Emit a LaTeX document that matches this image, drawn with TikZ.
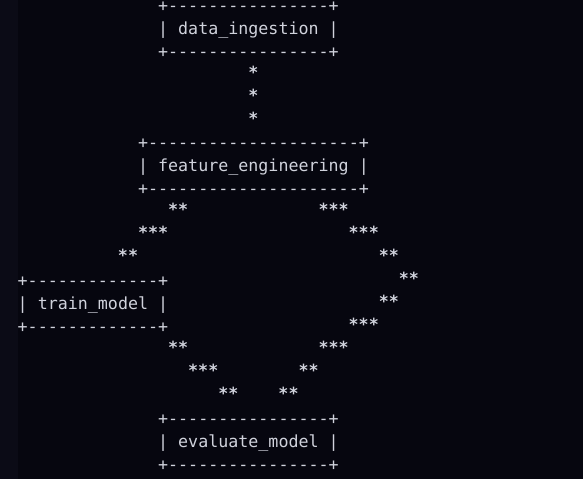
\documentclass[tikz,border=0pt]{standalone}
\usepackage{fontspec}
\setmonofont{DejaVu Sans Mono}
\definecolor{bg}{HTML}{06060F}
\definecolor{strip}{HTML}{0B0B16}
\definecolor{fg}{HTML}{D0D2DC}
\tikzset{
  ln/.style={anchor=base west, inner sep=0pt, outer sep=0pt, text=fg,
    font=\ttfamily\fontsize{12.5pt}{15pt}\selectfont},
  star/.style={ln, yshift=1.5pt, font=\ttfamily\bfseries\fontsize{12.5pt}{15pt}\selectfont},
}
\newcommand\cellxy[2]{({17.7+10.03*(#1)},{11.4+22.93*(#2)})}
\begin{document}
\begin{tikzpicture}[x=0.75pt,y=-0.75pt]
\useasboundingbox (0,0) rectangle (583,479);
\fill[bg] (0,0) rectangle (583,479);
\fill[strip] (0,0) rectangle (17.5,479);
% data_ingestion box
\node[ln] (diT) at \cellxy{14}{0} {+----------------+};
\node[ln] (di)  at \cellxy{14}{1} {| data\_ingestion |};
\node[ln] (diB) at \cellxy{14}{2} {+----------------+};
% edge data_ingestion -> feature_engineering
\node[star] (e1a) at \cellxy{23}{3} {*};
\node[star] (e1b) at \cellxy{23}{4} {*};
\node[star] (e1c) at \cellxy{23}{5} {*};
% feature_engineering box
\node[ln] (feT) at \cellxy{12}{6} {+---------------------+};
\node[ln] (fe)  at \cellxy{12}{7} {| feature\_engineering |};
\node[ln] (feB) at \cellxy{12}{8} {+---------------------+};
% edge feature_engineering -> train_model
\node[star] (e2a) at \cellxy{15}{9} {**};
\node[star] (e2b) at \cellxy{12}{10} {***};
\node[star] (e2c) at \cellxy{10}{11} {**};
% edge feature_engineering -> evaluate_model (right side)
\node[star] (e3a) at \cellxy{30}{9} {***};
\node[star] (e3b) at \cellxy{33}{10} {***};
\node[star] (e3c) at \cellxy{36}{11} {**};
\node[star] (e3d) at \cellxy{38}{12} {**};
\node[star] (e3e) at \cellxy{36}{13} {**};
\node[star] (e3f) at \cellxy{33}{14} {***};
\node[star] (e3g) at \cellxy{30}{15} {***};
\node[star] (e3h) at \cellxy{28}{16} {**};
\node[star] (e3i) at \cellxy{26}{17} {**};
% train_model box
\node[ln] (tmT) at \cellxy{0}{12} {+-------------+};
\node[ln] (tm)  at \cellxy{0}{13} {| train\_model |};
\node[ln] (tmB) at \cellxy{0}{14} {+-------------+};
% edge train_model -> evaluate_model
\node[star] (e4a) at \cellxy{15}{15} {**};
\node[star] (e4b) at \cellxy{17}{16} {***};
\node[star] (e4c) at \cellxy{20}{17} {**};
% evaluate_model box
\node[ln] (emT) at \cellxy{14}{18} {+----------------+};
\node[ln] (em)  at \cellxy{14}{19} {| evaluate\_model |};
\node[ln] (emB) at \cellxy{14}{20} {+----------------+};
\end{tikzpicture}
\end{document}
